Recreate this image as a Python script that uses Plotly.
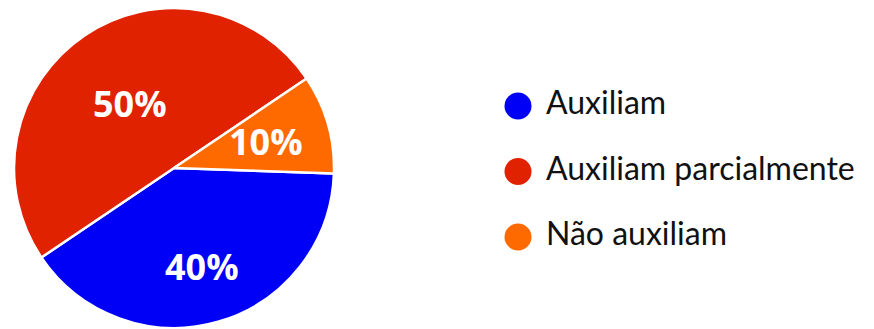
import math
import plotly.graph_objects as go

# Survey answers and their shares (%)
categories = ["Auxiliam", "Auxiliam parcialmente", "Não auxiliam"]
shares = [40, 50, 10]
colors = ["#0000F6", "#E02200", "#FF6A00"]

W, H = 874, 329

# Pie placement (pixels) and start angle of the first slice
cx, cy, r = 174, 168, 160
start_angle = 92
# radial position of each percentage label, as a fraction of the radius
label_radius = [0.64, 0.49, 0.6]

fig = go.Figure()

fig.add_trace(go.Pie(
    labels=categories,
    values=shares,
    sort=False,
    direction="clockwise",
    rotation=start_angle,
    marker=dict(colors=colors, line=dict(color="white", width=2.5)),
    textinfo="none",
    hoverinfo="label+percent",
    showlegend=False,
    domain=dict(x=[(cx - r) / W, (cx + r) / W],
                y=[(H - cy - r) / H, (H - cy + r) / H]),
))

# Percentage labels placed at each slice's mid-angle
total = sum(shares)
acc = 0
for val, frac in zip(shares, label_radius):
    mid = math.radians(start_angle + (acc + val / 2) / total * 360)
    acc += val
    px = cx + frac * r * math.sin(mid)
    py = cy - frac * r * math.cos(mid)
    fig.add_annotation(
        x=px / W, y=1 - py / H, xref="paper", yref="paper",
        text=f"{val}%", showarrow=False,
        xanchor="center", yanchor="middle",
        font=dict(family="Open Sans", size=36, color="white", weight="bold"),
    )

# Custom legend: round swatches with the category names beside them
rows = list(range(len(categories)))
fig.add_trace(go.Scatter(
    x=[0] * len(categories),
    y=rows,
    mode="markers",
    marker=dict(size=27, color=colors, symbol="circle"),
    xaxis="x", yaxis="y",
    hoverinfo="skip",
    showlegend=False,
))
fig.add_trace(go.Scatter(
    x=[28] * len(categories),
    y=rows,
    mode="text",
    text=categories,
    textposition="middle right",
    textfont=dict(family="Lato", size=32, color="#111111"),
    xaxis="x", yaxis="y",
    hoverinfo="skip",
    showlegend=False,
))

fig.update_layout(
    width=W, height=H,
    margin=dict(l=0, r=0, t=0, b=0),
    paper_bgcolor="white",
    plot_bgcolor="rgba(0,0,0,0)",
    xaxis=dict(domain=[0, 1], range=[-518, W - 518], visible=False, fixedrange=True),
    yaxis=dict(domain=[0, 1], range=[(H - 106) / 65.5, -106 / 65.5], visible=False, fixedrange=True),
)

fig.write_html("out.html")
